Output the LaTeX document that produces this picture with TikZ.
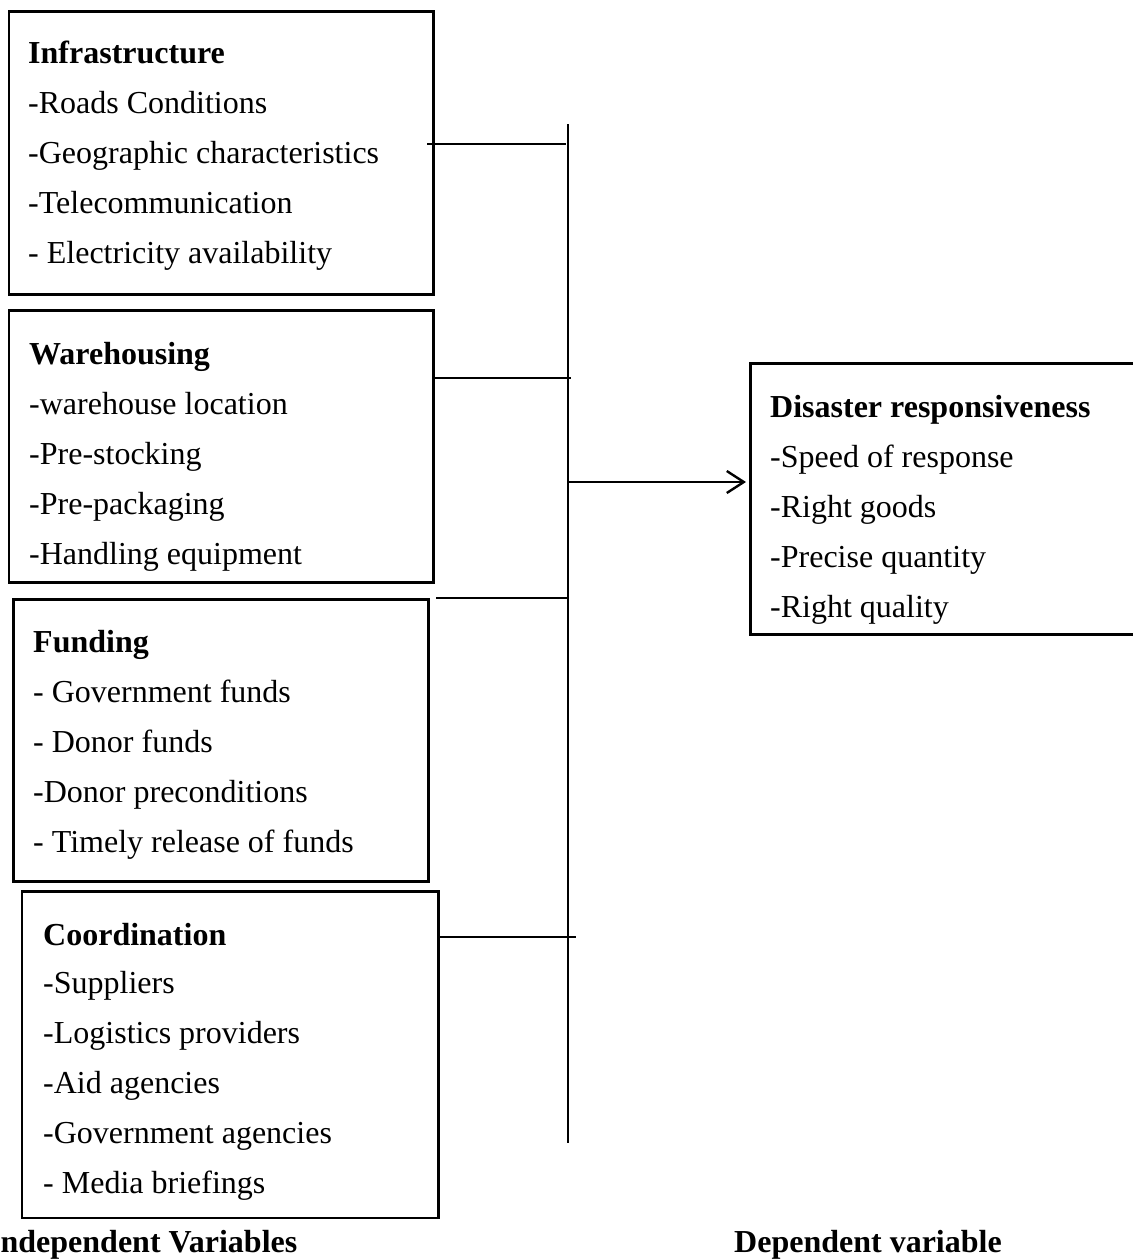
\documentclass[tikz,border=0pt]{standalone}
\usepackage{fontspec}
\setmainfont{Liberation Serif}
\usetikzlibrary{arrows.meta}
\tikzset{
    varbox/.style={draw=black, line width=2.7pt, anchor=north west, inner sep=0pt},
    item/.style={black, anchor=base west, inner sep=0pt, font=\fontsize{32}{38}\selectfont},
    head/.style={item, font=\fontsize{32}{38}\selectfont\bfseries},
    link/.style={black, line width=1.4pt},
}
\begin{document}
\begin{tikzpicture}[x=1pt,y=-1pt]
            \useasboundingbox (0,0) rectangle (1133,1259);
            \clip (0,0) rectangle (1133,1259);
            % boxes
            \node[varbox, minimum width=424.5pt, minimum height=283pt] (infra) at (7.5,10) {};
            \node[varbox, minimum width=424.5pt, minimum height=272pt] (ware) at (7.5,309) {};
            \node[varbox, minimum width=415pt, minimum height=282pt] (fund) at (12,598) {};
            \node[varbox, minimum width=416.5pt, minimum height=326.5pt] (coord) at (20.5,890) {};
            \node[varbox, minimum width=391pt, minimum height=271pt] (dep) at (749,362) {};
            % infrastructure
            \node[head] (infra0) at (28,63) {Infrastructure};
            \node[item] (infra1) at (28,113) {-Roads Conditions};
            \node[item] (infra2) at (28,163) {-Geographic characteristics};
            \node[item] (infra3) at (28,213) {-Telecommunication};
            \node[item] (infra4) at (28,263) {- Electricity availability};
            % warehousing
            \node[head] (ware0) at (29,364) {Warehousing};
            \node[item] (ware1) at (29,414) {-warehouse location};
            \node[item] (ware2) at (29,464) {-Pre-stocking};
            \node[item] (ware3) at (29,514) {-Pre-packaging};
            \node[item] (ware4) at (29,564) {-Handling equipment};
            % funding
            \node[head] (fund0) at (33,652) {Funding};
            \node[item] (fund1) at (33,702) {- Government funds};
            \node[item] (fund2) at (33,752) {- Donor funds};
            \node[item] (fund3) at (33,802) {-Donor preconditions};
            \node[item] (fund4) at (33,852) {- Timely release of funds};
            % coordination
            \node[head] (coord0) at (43,945) {Coordination};
            \node[item] (coord1) at (43,993) {-Suppliers};
            \node[item] (coord2) at (43,1043) {-Logistics providers};
            \node[item] (coord3) at (43,1093) {-Aid agencies};
            \node[item] (coord4) at (43,1143) {-Government agencies};
            \node[item] (coord5) at (43,1193) {- Media briefings};
            % disaster responsiveness
            \node[head] (dep0) at (770,417) {Disaster responsiveness};
            \node[item] (dep1) at (770,467) {-Speed of response};
            \node[item] (dep2) at (770,517) {-Right goods};
            \node[item] (dep3) at (770,567) {-Precise quantity};
            \node[item] (dep4) at (770,617) {-Right quality};
            % captions
            \node[head] (indep) at (-12,1252) {Independent Variables};
            \node[head] (depvar) at (734,1252) {Dependent variable};
            % bus and links
            \coordinate (bustop) at (568,124);
            \coordinate (busbot) at (568,1143);
            \coordinate (infraL) at (427,144);
            \coordinate (infraR) at (566,144);
            \coordinate (wareR) at (571,378);
            \coordinate (fundL) at (436,598);
            \coordinate (fundR) at (568,598);
            \coordinate (coordR) at (576,937);
            \coordinate (busout) at (569,482);
            \draw[link] (bustop) -- (busbot);
            \draw[link] (infraL) -- (infraR);
            \draw[link] (ware.east |- wareR) -- (wareR);
            \draw[link] (fundL) -- (fundR);
            \draw[link] (coord.east |- coordR) -- (coordR);
            \draw[black, line width=2.4pt, shorten >=3pt, -{Straight Barb[length=17pt, width=22pt]}] (busout) -- (dep.west |- busout);
\end{tikzpicture}
\end{document}
